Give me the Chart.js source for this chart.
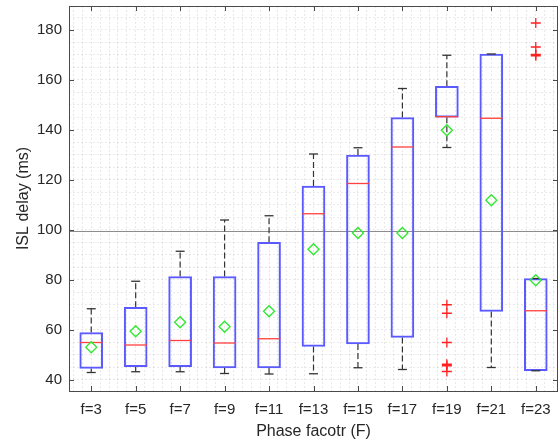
<!DOCTYPE html>
<html>
<head>
<meta charset="utf-8">
<script src="https://cdn.jsdelivr.net/npm/chart.js@4/dist/chart.umd.min.js"></script>
<style>
  html, body { margin: 0; padding: 0; background: #fff; }
  #wrap { width: 560px; height: 443px; }
</style>
</head>
<body>
<div id="wrap"><canvas id="c"></canvas></div>
<script>
// one entry per phase factor
const labels    = ['f=3', 'f=5', 'f=7', 'f=9', 'f=11', 'f=13', 'f=15', 'f=17', 'f=19', 'f=21', 'f=23'];
const whiskerLo = [42.9, 43.2, 43.2, 42.5, 42.3, 42.4, 44.8, 44.1, 132.9, 44.9, 43.6];
const q1        = [44.5, 45.2, 45.2, 44.7, 44.7, 53.3, 54.3, 56.9, 145.0, 67.3, 43.6];
const medians   = [54.9, 53.9, 55.7, 54.7, 56.4, 106.4, 118.5, 133.1, 145.2, 144.6, 67.6];
const q3        = [58.9, 69.0, 81.3, 81.3, 95.0, 117.5, 129.9, 144.9, 157.4, 170.3, 80.5];
const whiskerHi = [68.4, 79.4, 91.4, 103.9, 105.6, 130.3, 132.8, 156.5, 169.8, 170.3, 80.5];
const means     = [53.0, 59.4, 63.0, 61.2, 67.4, 92.2, 98.7, 98.7, 139.8, 111.8, 79.8];
const outliers  = [
  [], [], [], [], [], [], [], [],
  [70.0, 66.6, 54.9, 46.2, 45.6, 43.3],
  [],
  [182.7, 173.1, 170.1, 169.6]
];
const refDelay = 99.3;
const yTickLabels = [40, 60, 80, 100, 120, 140, 160, 180];

const textColor = '#262626';
const font = { family: "'Liberation Sans', Arial, sans-serif", size: 15 };

const boxData = labels.map((_, i) => ({ x: i + 1, y: [q1[i], q3[i]] }));
const medData = labels.map((_, i) => ({ x: i + 1, y: medians[i] }));
const meanData = labels.map((_, i) => ({ x: i + 1, y: means[i] }));
const capData = [];
const whiskData = [];
labels.forEach((_, i) => {
  capData.push({ x: i + 1, y: whiskerHi[i] }, { x: i + 1, y: whiskerLo[i] });
  whiskData.push({ x: i + 1, y: q3[i] }, { x: i + 1, y: whiskerHi[i] }, { x: i + 1, y: null });
  whiskData.push({ x: i + 1, y: q1[i] }, { x: i + 1, y: whiskerLo[i] }, { x: i + 1, y: null });
});
const outData = [];
outliers.forEach((arr, i) => arr.forEach(v => outData.push({ x: i + 1, y: v })));

// frame + inward tick marks like the original figure
const frame = {
  id: 'frame',
  afterDraw(chart) {
    const { ctx, chartArea: a, scales } = chart;
    ctx.save();
    ctx.strokeStyle = '#4a4a4a';
    ctx.lineWidth = 1;
    ctx.strokeRect(Math.round(a.left) + 0.5, Math.round(a.top) + 0.5,
      Math.round(a.right - a.left) - 1, Math.round(a.bottom - a.top));
    ctx.beginPath();
    labels.forEach((_, i) => {
      const x = Math.round(scales.x.getPixelForValue(i + 1)) + 0.5;
      ctx.moveTo(x, a.top); ctx.lineTo(x, a.top + 5);
      ctx.moveTo(x, a.bottom); ctx.lineTo(x, a.bottom - 5);
    });
    yTickLabels.forEach(v => {
      const y = Math.round(scales.y.getPixelForValue(v)) + 0.5;
      ctx.moveTo(a.left, y); ctx.lineTo(a.left + 5, y);
      ctx.moveTo(a.right, y); ctx.lineTo(a.right - 5, y);
    });
    ctx.stroke();
    ctx.restore();
  }
};

const gridColor = 'rgba(0,0,0,0.09)';

new Chart(document.getElementById('c'), {
  type: 'bar',
  data: {
    datasets: [
      {
        type: 'scatter', data: outData, pointStyle: 'cross', radius: 5,
        borderColor: '#ff2020', borderWidth: 1.3, backgroundColor: 'transparent'
      },
      {
        type: 'scatter', data: meanData, pointStyle: 'rectRot', radius: 5.5,
        borderColor: '#2ee82e', borderWidth: 1.3, backgroundColor: 'transparent'
      },
      {
        type: 'scatter', data: medData, pointStyle: 'line', radius: 11.3,
        borderColor: '#ff4040', borderWidth: 1.3
      },
      {
        type: 'scatter', data: capData, pointStyle: 'line', radius: 4.5,
        borderColor: '#333333', borderWidth: 1.3
      },
      {
        type: 'bar', data: boxData, barThickness: 23,
        backgroundColor: 'transparent', borderColor: '#5a5aff', borderWidth: 1.4,
        borderSkipped: false
      },
      {
        type: 'line', data: whiskData, spanGaps: false, pointRadius: 0,
        borderColor: '#333333', borderWidth: 1.2, borderDash: [6, 3]
      },
      {
        type: 'line', data: [{ x: 0.5, y: refDelay }, { x: 11.5, y: refDelay }],
        pointRadius: 0, borderColor: '#8c8c8c', borderWidth: 1.2
      }
    ]
  },
  options: {
    responsive: true,
    maintainAspectRatio: false,
    animation: false,
    events: [],
    layout: { autoPadding: false, padding: { left: 0, right: 2, top: 6, bottom: 0 } },
    plugins: { legend: { display: false }, tooltip: { enabled: false } },
    scales: {
      x: {
        type: 'linear', min: 0.5, max: 11.5, offset: false,
        afterBuildTicks: s => {
          const t = [];
          for (let k = 3; k <= 57; k++) t.push({ value: k / 5 });
          s.ticks = t;
        },
        afterFit: s => { s.height = 52; s.paddingLeft = 0; s.paddingRight = 0; },
        grid: { offset: false, color: gridColor, lineWidth: 1, drawTicks: false },
        border: { display: false, dash: [2, 2] },
        ticks: {
          autoSkip: false, maxRotation: 0, padding: 10, color: textColor, font,
          callback: v => {
            const r = Math.round(v);
            return Math.abs(v - r) < 1e-6 ? labels[r - 1] : '';
          }
        },
        title: {
          display: true, text: 'Phase facotr (F)', color: textColor,
          font: { family: font.family, size: 16 }, padding: { top: 0, bottom: 2 }
        }
      },
      y: {
        min: 35.5, max: 189.5,
        afterBuildTicks: s => {
          const t = [];
          for (let v = 40; v <= 185; v += 5) t.push({ value: v });
          s.ticks = t;
        },
        afterFit: s => { s.width = 69; s.paddingTop = 0; s.paddingBottom = 0; },
        grid: { color: gridColor, lineWidth: 1, drawTicks: false },
        border: { display: false, dash: [2, 2] },
        ticks: {
          autoSkip: false, padding: 7, color: textColor, font,
          callback: v => (yTickLabels.includes(v) ? v : '')
        },
        title: {
          display: true, text: 'ISL delay (ms)', color: textColor,
          font: { family: font.family, size: 16 }, padding: { top: 14, bottom: 0 }
        }
      }
    }
  },
  plugins: [frame]
});
</script>
</body>
</html>
